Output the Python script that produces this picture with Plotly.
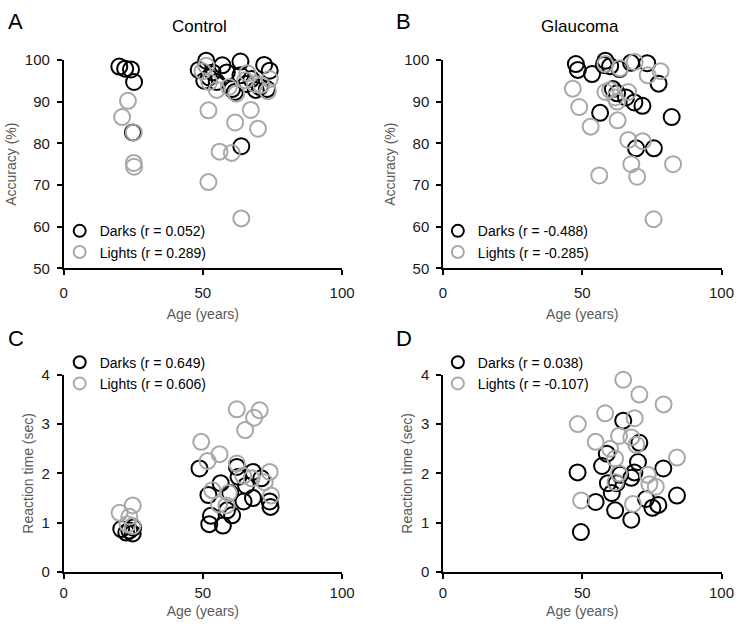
import plotly.graph_objects as go

# ---------------- data ----------------
# Panel A: Control, accuracy
A_dark_age = [20.0, 22.1, 24.2, 25.3, 24.9, 48.5, 51.2, 50.5, 52.2, 53.5, 55.0, 57.0, 58.6, 60.5, 61.5,
              63.5, 63.5, 65.6, 67.4, 69.0, 70.5, 72.0, 74.0, 73.0, 63.8]
A_dark_acc = [98.4, 97.9, 97.7, 94.7, 82.6, 97.6, 99.8, 95.0, 95.8, 97.0, 94.7, 98.7, 97.0, 93.0, 92.3,
              99.6, 96.3, 94.2, 95.4, 92.8, 93.5, 98.8, 97.4, 93.0, 79.3]
A_light_age = [23.1, 21.0, 25.2, 25.2, 25.3, 49.9, 51.2, 52.3, 55.0, 59.3, 62.0, 65.2, 68.7, 71.0, 73.3,
               74.0, 52.0, 52.0, 56.0, 60.4, 61.6, 67.2, 69.8, 63.8, 66.0]
A_light_acc = [90.2, 86.3, 82.6, 75.3, 74.4, 97.3, 98.6, 94.7, 92.8, 93.5, 91.9, 95.1, 94.2, 94.0, 92.5,
               95.4, 87.9, 70.7, 78.0, 77.7, 85.0, 88.0, 83.5, 62.0, 96.8]

# Panel B: Glaucoma, accuracy
B_dark_age = [47.7, 48.4, 53.5, 58.3, 57.7, 60.0, 63.4, 67.5, 73.3, 77.4, 61.0, 62.5, 65.7, 68.7, 71.6,
              56.4, 82.1, 69.3, 75.7]
B_dark_acc = [99.0, 97.6, 96.6, 99.8, 98.8, 98.5, 97.8, 99.3, 99.2, 94.3, 93.0, 92.0, 91.0, 89.8, 89.0,
              87.3, 86.3, 78.8, 78.8]
B_light_age = [46.6, 48.9, 53.0, 56.1, 62.7, 66.5, 71.7, 67.6, 69.7, 82.6, 75.6, 58.3, 60.0, 61.8, 68.8,
               58.3, 73.5, 78.1, 66.5, 63.5, 62.5]
B_light_acc = [93.1, 88.7, 84.0, 72.3, 85.5, 80.8, 80.5, 75.0, 72.0, 75.0, 61.8, 92.3, 92.8, 91.0, 99.5,
               99.0, 96.3, 97.3, 92.3, 98.0, 90.0]

# Panel C: Control, reaction time
C_dark_age = [20.7, 23.6, 24.8, 22.5, 25.0, 48.8, 52.0, 52.9, 52.3, 57.2, 56.4, 58.7, 59.8, 62.2, 62.8,
              64.6, 68.0, 68.0, 71.0, 74.0, 74.3, 65.5, 60.5]
C_dark_rt = [0.87, 0.84, 0.78, 0.80, 0.90, 2.10, 1.56, 1.14, 0.97, 0.94, 1.80, 1.25, 1.60, 2.13, 1.93,
             1.43, 1.50, 2.03, 1.90, 1.43, 1.32, 1.75, 1.15]
C_light_age = [20.1, 24.8, 23.6, 24.8, 23.0, 49.4, 51.7, 56.0, 62.2, 65.2, 68.4, 70.4, 53.4, 55.8, 59.3,
               62.2, 64.5, 67.5, 74.0, 72.2, 74.5, 58.5]
C_light_rt = [1.20, 1.35, 1.12, 0.93, 0.97, 2.64, 2.25, 2.39, 3.30, 2.88, 3.13, 3.28, 1.66, 1.37, 1.60,
              2.20, 1.95, 1.90, 2.03, 1.82, 1.55, 1.35]

# Panel D: Glaucoma, reaction time
D_dark_age = [48.3, 49.5, 54.8, 57.1, 58.8, 59.2, 60.6, 61.8, 62.3, 64.7, 63.6, 67.6, 67.6, 68.7, 70.0,
              70.5, 72.9, 75.2, 77.3, 79.1, 84.0]
D_dark_rt = [2.02, 0.81, 1.42, 2.15, 2.40, 1.80, 1.60, 1.25, 1.80, 3.07, 1.97, 1.91, 1.06, 2.02, 2.23,
             2.62, 1.48, 1.30, 1.36, 2.10, 1.55]
D_light_age = [48.4, 49.6, 54.8, 58.2, 60.0, 61.8, 63.2, 64.7, 63.2, 61.9, 67.6, 68.2, 68.8, 69.4, 70.5,
               73.5, 74.1, 76.4, 79.2, 84.0]
D_light_rt = [3.00, 1.45, 2.64, 3.22, 2.50, 2.30, 2.76, 3.90, 2.00, 1.82, 2.73, 1.38, 3.12, 2.58, 3.60,
              1.97, 1.78, 1.73, 3.40, 2.32]

legend_names = {
    "A": ("Darks (r = 0.052)", "Lights (r = 0.289)"),
    "B": ("Darks (r = -0.488)", "Lights (r = -0.285)"),
    "C": ("Darks (r = 0.649)", "Lights (r = 0.606)"),
    "D": ("Darks (r = 0.038)", "Lights (r = -0.107)"),
}

x_ticks = [0, 50, 100]
acc_ticks = [50, 60, 70, 80, 90, 100]
rt_ticks = [0, 1, 2, 3, 4]

# ---------------- figure ----------------
W, H = 744, 628
FONT = "Liberation Sans, Arial, sans-serif"
DARK = "#000000"
LIGHT = "#a8a8a8"

fig = go.Figure()

panels = [
    ("A", "x", "y", "legend", A_dark_age, A_dark_acc, A_light_age, A_light_acc),
    ("B", "x2", "y2", "legend2", B_dark_age, B_dark_acc, B_light_age, B_light_acc),
    ("C", "x3", "y3", "legend3", C_dark_age, C_dark_rt, C_light_age, C_light_rt),
    ("D", "x4", "y4", "legend4", D_dark_age, D_dark_rt, D_light_age, D_light_rt),
]

for key, xa, ya, lg, dx, dy, lx, ly in panels:
    dn, ln = legend_names[key]
    fig.add_trace(go.Scatter(
        x=dx, y=dy, mode="markers", name=dn, xaxis=xa, yaxis=ya, legend=lg,
        cliponaxis=False,
        marker=dict(symbol="circle-open", size=16, color=DARK, line=dict(width=2, color=DARK)),
    ))
    fig.add_trace(go.Scatter(
        x=lx, y=ly, mode="markers", name=ln, xaxis=xa, yaxis=ya, legend=lg,
        cliponaxis=False,
        marker=dict(symbol="circle-open", size=16, color=LIGHT, line=dict(width=2, color=LIGHT)),
    ))

def px_x(p):
    return p / W

def px_y(p):
    return 1 - p / H

left_dom = [px_x(61), px_x(346)]
right_dom = [px_x(449.3), px_x(734.3)]
top_dom = [px_y(266.7), px_y(52.3)]
bot_dom = [px_y(578.6), px_y(376)]

axis_common = dict(
    showgrid=False, zeroline=False, showline=True, linecolor="black", linewidth=1.5,
    ticks="outside", ticklen=5, tickwidth=1.5, tickcolor="black",
    tickfont=dict(family=FONT, size=15, color="#1a1a1a"),
    title_font=dict(family=FONT, size=14, color="#595959"),
)

def xaxis(dom, anchor, label_gap, title_gap):
    return dict(axis_common, domain=dom, anchor=anchor, range=[0, 100], tickvals=x_ticks,
                ticklabelstandoff=label_gap,
                title=dict(text="Age (years)", standoff=title_gap))

def yaxis(dom, anchor, rng, ticks, title):
    return dict(axis_common, domain=dom, anchor=anchor, range=rng, tickvals=ticks,
                ticklabelstandoff=4,
                title=dict(text=title, standoff=5))

fig.update_layout(
    width=W, height=H,
    margin=dict(l=0, r=0, t=0, b=0),
    paper_bgcolor="white", plot_bgcolor="white",
    font=dict(family=FONT, color="black"),
    xaxis=xaxis(left_dom, "y", 5, 9),
    yaxis=yaxis(top_dom, "x", [50, 100], acc_ticks, "Accuracy (%)"),
    xaxis2=xaxis(right_dom, "y2", 5, 9),
    yaxis2=yaxis(top_dom, "x2", [50, 100], acc_ticks, "Accuracy (%)"),
    xaxis3=xaxis(left_dom, "y3", 1, 7),
    yaxis3=yaxis(bot_dom, "x3", [0, 4], rt_ticks, "Reaction time (sec)"),
    xaxis4=xaxis(right_dom, "y4", 1, 7),
    yaxis4=yaxis(bot_dom, "x4", [0, 4], rt_ticks, "Reaction time (sec)"),
)

leg_common = dict(
    xanchor="left", yanchor="top", bgcolor="rgba(0,0,0,0)", itemsizing="constant",
    font=dict(family=FONT, size=14, color="black"), tracegroupgap=0,
    borderwidth=0, itemclick=False, itemdoubleclick=False,
)
fig.update_layout(
    legend=dict(leg_common, x=px_x(57), y=px_y(212)),
    legend2=dict(leg_common, x=px_x(444), y=px_y(212)),
    legend3=dict(leg_common, x=px_x(57), y=px_y(347)),
    legend4=dict(leg_common, x=px_x(444), y=px_y(347)),
)

# panel titles and letters
ann = [
    dict(text="Control", x=px_x(200), y=px_y(18)),
    dict(text="Glaucoma", x=px_x(589), y=px_y(18)),
]
for a in ann:
    fig.add_annotation(xref="paper", yref="paper", x=a["x"], y=a["y"], text=a["text"],
                       showarrow=False, xanchor="center", yanchor="middle",
                       font=dict(family=FONT, size=17, color="black"))
letters = [("A", 12, 13), ("B", 409, 13), ("C", 12, 339), ("D", 409, 339)]
for t, lx_, ly_ in letters:
    fig.add_annotation(xref="paper", yref="paper", x=px_x(lx_), y=px_y(ly_), text=t,
                       showarrow=False, xanchor="center", yanchor="middle",
                       font=dict(family=FONT, size=22, color="black"))

page_fix = (
    "document.documentElement.style.overflow='hidden';"
    "document.body.style.margin='0';document.body.style.padding='0';"
    "document.body.style.overflow='hidden';"
    "var d=document.getElementById('{plot_id}');"
    "d.style.position='fixed';d.style.left='0px';d.style.top='0px';"
)
fig.write_html("out.html", config={"displayModeBar": False}, post_script=page_fix)
